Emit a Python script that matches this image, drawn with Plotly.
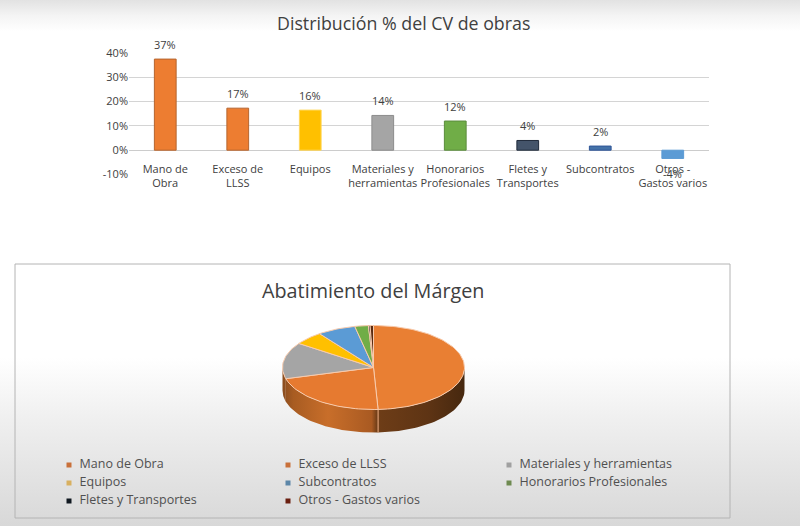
import math
import plotly.graph_objects as go

# ---- data ----
bar_categories = ["Mano de<br>Obra", "Exceso de<br>LLSS", "Equipos", "Materiales y<br>herramientas",
                  "Honorarios<br>Profesionales", "Fletes y<br>Transportes", "Subcontratos", "Otros -<br>Gastos varios"]
bar_values = [37.5, 17.3, 16.5, 14.3, 12.0, 4.0, 1.7, -3.4]
bar_labels = ["37%", "17%", "16%", "14%", "12%", "4%", "2%", "-4%"]
bar_colors = ["#ED7D31", "#ED7D31", "#FFC000", "#A5A5A5", "#70AD47", "#44546A", "#4472A8", "#5B9BD5"]
bar_edges = ["#B5652F", "#B5652F", "#FFD75A", "#8C8C8C", "#5B8C3C", "#1F2A3A", "#2F5597", "#5B9BD5"]
y_ticks = [-10, 0, 10, 20, 30, 40]
y_ticklabels = ["-10%", "0%", "10%", "20%", "30%", "40%"]

pie_labels = ["Mano de Obra", "Exceso de LLSS", "Materiales y herramientas", "Equipos",
              "Subcontratos", "Honorarios Profesionales", "Fletes y Transportes", "Otros - Gastos varios"]
pie_values = [49.2, 21.5, 14.0, 5.2, 6.8, 2.4, 0.3, 0.6]
pie_colors = ["#E97F33", "#E67A30", "#A5A5A5", "#FFC000", "#5B9BD5", "#70AD47", "#1F2A3A", "#5A2A10"]
legend_colors = ["#C9703A", "#C9703A", "#A0A0A0", "#D8B060", "#5C86A8", "#6E8A50", "#101820", "#6A1F10"]

FONT = "Open Sans"
TEXT = "#404040"

# pie geometry (pixels)
CX, CY, RX, RY, DEPTH = 373.5, 367.5, 91, 42, 23

fig = go.Figure()

# page background + panel (pixel layer lives on the primary axes, so it sits under the bar chart)
fig.add_trace(go.Scatter(x=[0, 800, 800, 0, 0], y=[0, 0, 526, 526, 0], mode="lines", fill="toself",
                         line=dict(width=0), hoverinfo="skip", showlegend=False,
                         fillgradient=dict(type="vertical", start=0, stop=526,
                                           colorscale=[[0, "#E2E2E2"], [0.03, "#F4F4F4"], [0.06, "#FFFFFF"],
                                                       [0.68, "#FFFFFF"], [0.8, "#EFEFEF"], [1, "#D8D8D8"]])))
fig.add_trace(go.Scatter(x=[15, 730, 730, 15, 15], y=[264, 264, 518, 518, 264], mode="lines",
                         line=dict(color="#B4B4B4", width=1), hoverinfo="skip", showlegend=False))


def pt(theta, dy=0):
    return CX + RX * math.sin(theta), CY - RY * math.cos(theta) + dy


total = sum(pie_values)
angles = [0.0]
for v in pie_values:
    angles.append(angles[-1] + v / total * 2 * math.pi)

WALL_SCALE = [[0, "#8A4C1E"], [0.06, "#A85C22"], [0.25, "#C86E2A"], [0.49, "#A95A22"],
              [0.52, "#6E3D17"], [0.8, "#5E3414"], [1, "#46280F"]]

# side wall of the pie along the front half
for i, color in enumerate(pie_colors):
    a0, a1 = max(angles[i], math.pi / 2), min(angles[i + 1], 3 * math.pi / 2)
    if a1 <= a0:
        continue
    n = 40
    front = [pt(a0 + (a1 - a0) * k / n) for k in range(n + 1)]
    back = [pt(a0 + (a1 - a0) * k / n, DEPTH) for k in range(n, -1, -1)]
    xs = [p[0] for p in front + back] + [front[0][0]]
    ys = [p[1] for p in front + back] + [front[0][1]]
    fig.add_trace(go.Scatter(x=xs, y=ys, mode="lines", fill="toself", line=dict(width=0),
                             fillgradient=dict(type="horizontal", start=CX - RX, stop=CX + RX,
                                               colorscale=WALL_SCALE),
                             hoverinfo="skip", showlegend=False))

# wall separator where the first slice meets the second
sx, sy = pt(angles[1])
fig.add_trace(go.Scatter(x=[sx, sx], y=[sy, sy + DEPTH], mode="lines", line=dict(color="#F4B183", width=1),
                         hoverinfo="skip", showlegend=False))

# top face of the pie
for i, color in enumerate(pie_colors):
    n = max(2, int((angles[i + 1] - angles[i]) / math.radians(2)))
    pts = [pt(angles[i] + (angles[i + 1] - angles[i]) * k / n) for k in range(n + 1)]
    xs = [CX] + [p[0] for p in pts] + [CX]
    ys = [CY] + [p[1] for p in pts] + [CY]
    fig.add_trace(go.Scatter(x=xs, y=ys, mode="lines", fill="toself", fillcolor=color,
                             line=dict(color="#F8CBAD", width=1), hoverinfo="skip", showlegend=False))

# legend (three columns, three rows)
col_x = [69, 288, 509]
row_y = [465, 483, 501]
lx = [col_x[i % 3] for i in range(8)]
ly = [row_y[i // 3] for i in range(8)]
fig.add_trace(go.Scatter(x=lx, y=ly, mode="markers+text", text=["  " + s for s in pie_labels],
                         textposition="middle right",
                         textfont=dict(family=FONT, size=12.5, color="#505050"),
                         marker=dict(size=5, symbol="square", color=legend_colors, line=dict(width=0)),
                         hoverinfo="skip", showlegend=False, cliponaxis=False))

# bars on the secondary axes, drawn above the pixel layer
fig.add_trace(go.Bar(x=list(range(8)), y=bar_values, width=0.3, xaxis="x2", yaxis="y2",
                     marker=dict(color=bar_colors, line=dict(color=bar_edges, width=1)),
                     showlegend=False, hoverinfo="skip"))

annotations = [dict(x=i, y=v, xref="x2", yref="y2", text=t, showarrow=False,
                    yshift=(14.5 if v >= 0 else -15), font=dict(family=FONT, size=11, color=TEXT))
               for i, (v, t) in enumerate(zip(bar_values, bar_labels))]
annotations += [
    dict(x=403.5, y=23, xref="x", yref="y", text="Distribución % del CV de obras", showarrow=False,
         font=dict(family=FONT, size=17.8, color="#404040")),
    dict(x=373, y=290, xref="x", yref="y", text="Abatimiento del Márgen", showarrow=False,
         font=dict(family=FONT, size=19.8, color="#404040")),
]

H = 526
fig.update_layout(
    template="none",
    width=800, height=526, margin=dict(l=0, r=0, t=0, b=0, pad=0), autosize=False,
    paper_bgcolor="white", plot_bgcolor="rgba(0,0,0,0)",
    annotations=annotations, showlegend=False,
    xaxis=dict(domain=[0, 1], range=[0, 800], visible=False, fixedrange=True, anchor="y", automargin=False),
    yaxis=dict(domain=[0, 1], range=[526, 0], visible=False, fixedrange=True, anchor="x", automargin=False),
    xaxis2=dict(domain=[129 / 800, 709 / 800], range=[-0.5, 7.5], tickmode="array", tickvals=list(range(8)),
                ticktext=bar_categories, showgrid=False, zeroline=False, showline=False, ticks="",
                anchor="free", position=1 - 160.5 / H, tickfont=dict(family=FONT, size=11, color=TEXT),
                automargin=False),
    yaxis2=dict(domain=[1 - 174.5 / H, 1 - 53 / H], range=[-10, 40], tickmode="array", tickvals=y_ticks,
                ticktext=y_ticklabels, gridcolor="#D4D4D4", gridwidth=1, zeroline=True, zerolinecolor="#CCCCCC",
                showline=False, ticks="", tickfont=dict(family=FONT, size=11, color=TEXT), anchor="x2",
                automargin=False),
)

fig.write_html("out.html", post_script="document.body.style.margin='0';",
               config=dict(displayModeBar=False))
